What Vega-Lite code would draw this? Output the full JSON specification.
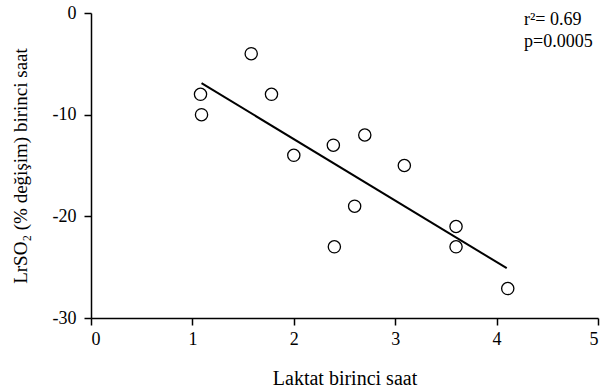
{
  "$schema": "https://vega.github.io/schema/vega-lite/v6.json",
  "width": 507,
  "height": 305,
  "autosize": "none",
  "padding": {"left": 91, "top": 13, "right": 10, "bottom": 70},
  "background": "white",
  "config": {
    "view": {"stroke": null},
    "font": "Liberation Serif",
    "axis": {
      "grid": false,
      "domainColor": "black",
      "domainWidth": 1.5,
      "tickColor": "black",
      "tickWidth": 1.5,
      "tickSize": 7,
      "labelColor": "black",
      "labelFont": "Liberation Serif",
      "labelFontSize": 18,
      "titleFont": "Liberation Serif",
      "titleFontWeight": "normal",
      "titleColor": "black"
    }
  },
  "datasets": {
    "pts": [
      {"laktat": 1.58, "lrso2": -4},
      {"laktat": 1.08, "lrso2": -8},
      {"laktat": 1.09, "lrso2": -10},
      {"laktat": 1.78, "lrso2": -8},
      {"laktat": 2.0, "lrso2": -14},
      {"laktat": 2.39, "lrso2": -13},
      {"laktat": 2.7, "lrso2": -12},
      {"laktat": 3.09, "lrso2": -15},
      {"laktat": 2.6, "lrso2": -19},
      {"laktat": 2.4, "lrso2": -23},
      {"laktat": 3.6, "lrso2": -21},
      {"laktat": 3.6, "lrso2": -23},
      {"laktat": 4.11, "lrso2": -27.1}
    ],
    "fit": [
      {"laktat": 1.09, "lrso2": -6.9},
      {"laktat": 4.1, "lrso2": -25.1}
    ],
    "notes": [
      {"label": "r²= 0.69", "nx": 4.27, "ny": -0.7},
      {"label": "p=0.0005", "nx": 4.27, "ny": -2.85}
    ]
  },
  "layer": [
    {
      "data": {"name": "fit"},
      "mark": {"type": "line", "color": "black", "strokeWidth": 2},
      "encoding": {
        "x": {"field": "laktat", "type": "quantitative", "scale": {"domain": [0, 5], "nice": false},
          "axis": {"title": "Laktat birinci saat", "values": [0, 1, 2, 3, 4, 5], "labelExpr": "'' + datum.value", "labelPadding": 5, "titleFontSize": 20, "titlePadding": 20}},
        "y": {"field": "lrso2", "type": "quantitative", "scale": {"domain": [-30, 0], "nice": false},
          "axis": {"title": "LrSO₂ (% değişim) birinci saat", "values": [0, -10, -20, -30], "labelExpr": "'' + datum.value", "labelPadding": 8, "titleFontSize": 19, "titlePadding": 22}}
      }
    },
    {
      "data": {"name": "pts"},
      "mark": {"type": "point", "shape": "circle", "size": 150, "stroke": "black", "strokeWidth": 1.3, "fill": "white", "filled": false, "opacity": 1},
      "encoding": {
        "x": {"field": "laktat", "type": "quantitative"},
        "y": {"field": "lrso2", "type": "quantitative"}
      }
    },
    {
      "data": {"name": "notes"},
      "mark": {"type": "text", "align": "left", "baseline": "middle", "fontSize": 18, "font": "Liberation Serif", "color": "black"},
      "encoding": {
        "x": {"field": "nx", "type": "quantitative"},
        "y": {"field": "ny", "type": "quantitative"},
        "text": {"field": "label"}
      }
    }
  ]
}
